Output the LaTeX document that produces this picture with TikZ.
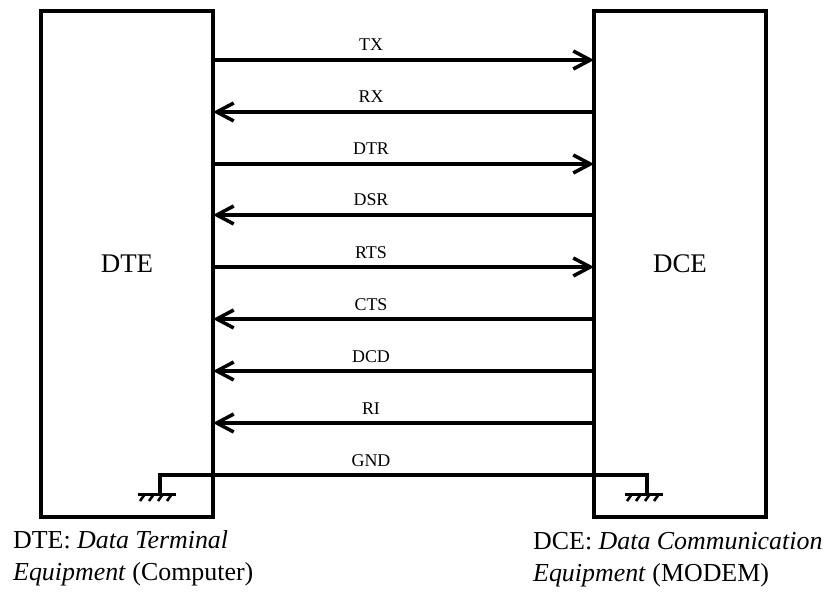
\documentclass[tikz,border=0pt]{standalone}
\usepackage{fontspec}
\setmainfont{Liberation Serif}
\usetikzlibrary{arrows.meta,calc}
\begin{document}
\begin{tikzpicture}[x=1bp,y=-1bp,
  wire/.style={line width=3.5bp},
  unit/.style={draw, line width=3.5bp, inner sep=0pt, outer sep=0pt,
    minimum width=172bp, minimum height=506bp},
  sig/.style={wire, -{Straight Barb[length=17bp,width=18bp,line width=3.5bp]}},
  siglabel/.style={font=\fontsize{18}{20}\selectfont, inner sep=0pt},
  unitlabel/.style={font=\fontsize{27}{30}\selectfont, inner sep=0pt},
  caption/.style={font=\fontsize{26}{30}\selectfont, inner sep=0pt, anchor=base west},
  earth/.style={line width=3bp},
  hatch/.style={line width=2.6bp}
]
\useasboundingbox (0,0) rectangle (834,594);

% the two equipment blocks
\node[unit] (dte) at (127,264) {};
\node[unit] (dce) at (680,264) {};
\node[unitlabel] (dtetext) at (dte.center) {DTE};
\node[unitlabel] (dcetext) at (dce.center) {DCE};

% signal rows
\foreach \name/\y [count=\i from 0] in
  {TX/60,RX/112,DTR/164,DSR/215,RTS/267,CTS/319,DCD/371,RI/423,GND/475}{
  \coordinate (row\i) at (371,\y);
  \node[siglabel, anchor=base] (lab\i) at ($(row\i)+(0,-9)$) {\name};
}

% DTE -> DCE
\foreach \i in {0,2,4}{
  \draw[sig] (dte.east |- row\i) -- (dce.west |- row\i);
}
% DCE -> DTE
\foreach \i in {1,3,5,6,7}{
  \draw[sig] (dce.west |- row\i) -- (dte.east |- row\i);
}

% ground line with earth symbols inside both blocks
\coordinate (gndL) at (160,494);
\coordinate (gndR) at (647,494);
\draw[wire] (gndL) -- (gndL |- row8) -- (gndR |- row8) -- (gndR);
\foreach \g in {gndL,gndR}{
  \draw[earth] ($(\g)+(-22,0)$) -- ($(\g)+(16,0)$);
  \foreach \dx in {-15,-6,3,12}{
    \draw[hatch] ($(\g)+(\dx,0)$) -- ($(\g)+(\dx-5,7)$);
  }
}

% captions
\node[caption] (capl1) at (13,548) {DTE: \textit{Data Terminal}};
\node[caption] (capl2) at (13,580) {\textit{Equipment} (Computer)};
\node[caption] (capr1) at (533,549) {DCE: \textit{Data Communication}};
\node[caption] (capr2) at (533,581) {\textit{Equipment} (MODEM)};
\end{tikzpicture}
\end{document}
